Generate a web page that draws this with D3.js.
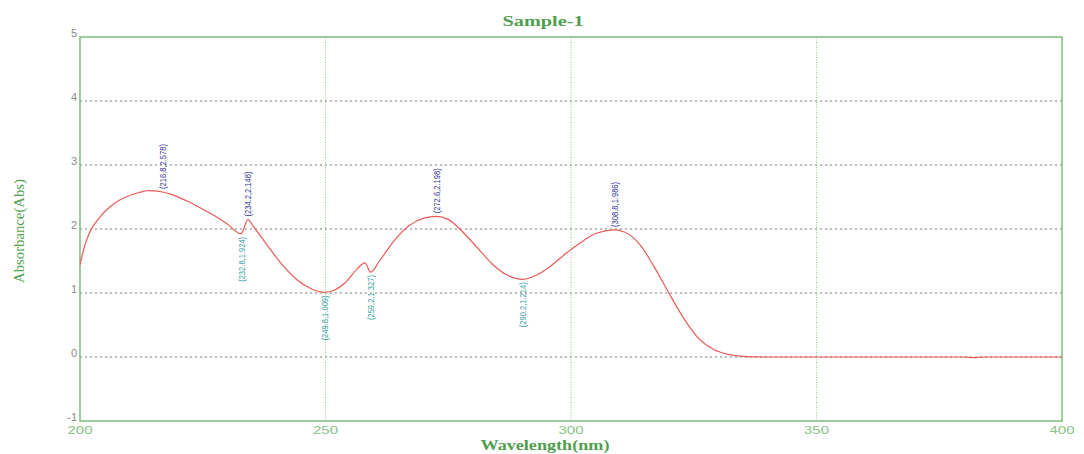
<!DOCTYPE html>
<html>
<head>
<meta charset="utf-8">
<script src="https://cdn.jsdelivr.net/npm/d3@7"></script>
<style>
  html, body { margin: 0; padding: 0; background: #fff; }
  svg { display: block; }
</style>
</head>
<body>
<svg id="chart" width="1084" height="454"></svg>
<script>
// UV-Vis absorbance spectrum, Sample-1
const wavelengths = [200,201,202,204,206,208,210,212,214,216.8,219,222,225,228,230,232.8,234.2,235.5,238,241,244,247,249.8,252,254,256.5,258,259.2,261,264,267,270,272.6,275,278,281,284,287,290.2,293,296,299,302,305,308.8,311,314,317,320,323,326,329,332,335,340,350,360,370,380,382,384,390,400];
const absorbance  = [1.44,1.75,1.95,2.18,2.34,2.45,2.52,2.57,2.60,2.578,2.53,2.43,2.31,2.18,2.08,1.924,2.148,2.02,1.76,1.46,1.22,1.07,1.009,1.05,1.16,1.38,1.47,1.327,1.50,1.82,2.05,2.17,2.198,2.15,1.95,1.70,1.45,1.28,1.214,1.28,1.43,1.62,1.79,1.93,1.986,1.95,1.76,1.40,0.99,0.60,0.29,0.12,0.04,0.01,0.0,0.0,0.0,0.0,0.0,-0.01,0.0,0.0,0.0];

// Picked peaks (maxima) and valleys (minima)
const peakWl   = [216.8, 234.2, 272.6, 308.8];
const peakAbs  = [2.578, 2.148, 2.198, 1.986];
const valleyWl  = [232.8, 249.8, 259.2, 290.2];
const valleyAbs = [1.924, 1.009, 1.327, 1.214];

const xTicks = [200, 250, 300, 350, 400];
const yTicks = [-1, 0, 1, 2, 3, 4, 5];

const svg = d3.select("#chart");
const plotL = 80, plotR = 1062, plotT = 37, plotB = 421;

const x = d3.scaleLinear().domain([200, 400]).range([plotL, plotR]);
const y = d3.scaleLinear().domain([-1, 5]).range([plotB, plotT]);

const frameColor = "#7dbb7d";
const serif = "'Liberation Serif','DejaVu Serif',serif";
const sans = "'Liberation Sans','DejaVu Sans',sans-serif";

// horizontal dotted grid
svg.append("g").selectAll("line")
  .data(yTicks.filter(v => v > -1 && v < 5))
  .join("line")
  .attr("x1", plotL).attr("x2", plotR)
  .attr("y1", d => y(d)).attr("y2", d => y(d))
  .attr("stroke", "#a8a8a8").attr("stroke-width", 1.3)
  .attr("stroke-dasharray", "2,3");

// vertical dotted grid
svg.append("g").selectAll("line")
  .data(xTicks.filter(v => v > 200 && v < 400))
  .join("line")
  .attr("x1", d => x(d)).attr("x2", d => x(d))
  .attr("y1", plotT).attr("y2", plotB)
  .attr("stroke", "#8cc98c").attr("stroke-width", 1)
  .attr("stroke-dasharray", "1,1.5");

// plot frame
svg.append("rect")
  .attr("x", plotL).attr("y", plotT)
  .attr("width", plotR - plotL).attr("height", plotB - plotT)
  .attr("fill", "none").attr("stroke", frameColor).attr("stroke-width", 1.5);

// y tick labels
svg.append("g").selectAll("text")
  .data(yTicks)
  .join("text")
  .attr("x", plotL - 3).attr("y", d => y(d))
  .attr("text-anchor", "end")
  .attr("font-family", sans).attr("font-size", 11)
  .attr("fill", "#8a8a8a")
  .text(d => d);

// x tick labels
svg.append("g").selectAll("text")
  .data(xTicks)
  .join("text")
  .attr("x", d => x(d)).attr("y", plotB + 13)
  .attr("text-anchor", "middle")
  .attr("font-family", sans).attr("font-size", 10)
  .attr("textLength", 25).attr("lengthAdjust", "spacingAndGlyphs")
  .attr("fill", "#86c386")
  .text(d => d);

// spectrum line
const pts = wavelengths.map((w, i) => [w, absorbance[i]]);
const line = d3.line()
  .x(d => x(d[0])).y(d => y(d[1]))
  .curve(d3.curveMonotoneX);
svg.append("path")
  .datum(pts)
  .attr("d", line)
  .attr("fill", "none")
  .attr("stroke", "#ea5a55")
  .attr("stroke-width", 1.2);

// peak labels (above, reading upward)
const fmt = (w, a) => `(${w.toFixed(1)},${a.toFixed(3)})`;
svg.append("g").selectAll("text")
  .data(peakWl.map((w, i) => [w, peakAbs[i]]))
  .join("text")
  .attr("transform", d => `translate(${x(d[0]) + 3.5},${y(d[1]) - 3}) rotate(-90)`)
  .attr("text-anchor", "start")
  .attr("font-family", sans).attr("font-size", 9)
  .attr("textLength", 45).attr("lengthAdjust", "spacingAndGlyphs")
  .attr("fill", "#34349a")
  .text(d => fmt(d[0], d[1]));

// valley labels (below, reading upward)
svg.append("g").selectAll("text")
  .data(valleyWl.map((w, i) => [w, valleyAbs[i]]))
  .join("text")
  .attr("transform", d => `translate(${x(d[0]) + 3.5},${y(d[1]) + 3}) rotate(-90)`)
  .attr("text-anchor", "end")
  .attr("font-family", sans).attr("font-size", 9)
  .attr("textLength", 45).attr("lengthAdjust", "spacingAndGlyphs")
  .attr("fill", "#2f9e9e")
  .text(d => fmt(d[0], d[1]));

// title
svg.append("text")
  .attr("x", 543).attr("y", 26)
  .attr("text-anchor", "middle")
  .attr("font-family", serif).attr("font-weight", "bold").attr("font-size", 15)
  .attr("textLength", 81).attr("lengthAdjust", "spacingAndGlyphs")
  .attr("fill", "#4f9f4f")
  .text("Sample-1");

// x axis title
svg.append("text")
  .attr("x", 545).attr("y", 450)
  .attr("text-anchor", "middle")
  .attr("font-family", serif).attr("font-weight", "bold").attr("font-size", 14)
  .attr("textLength", 129).attr("lengthAdjust", "spacingAndGlyphs")
  .attr("fill", "#4f9f4f")
  .text("Wavelength(nm)");

// y axis title
svg.append("text")
  .attr("transform", "translate(24,231) rotate(-90)")
  .attr("text-anchor", "middle")
  .attr("font-family", serif).attr("font-size", 14)
  .attr("textLength", 104).attr("lengthAdjust", "spacingAndGlyphs")
  .attr("fill", "#4f9f4f")
  .text("Absorbance(Abs)");
</script>
</body>
</html>
